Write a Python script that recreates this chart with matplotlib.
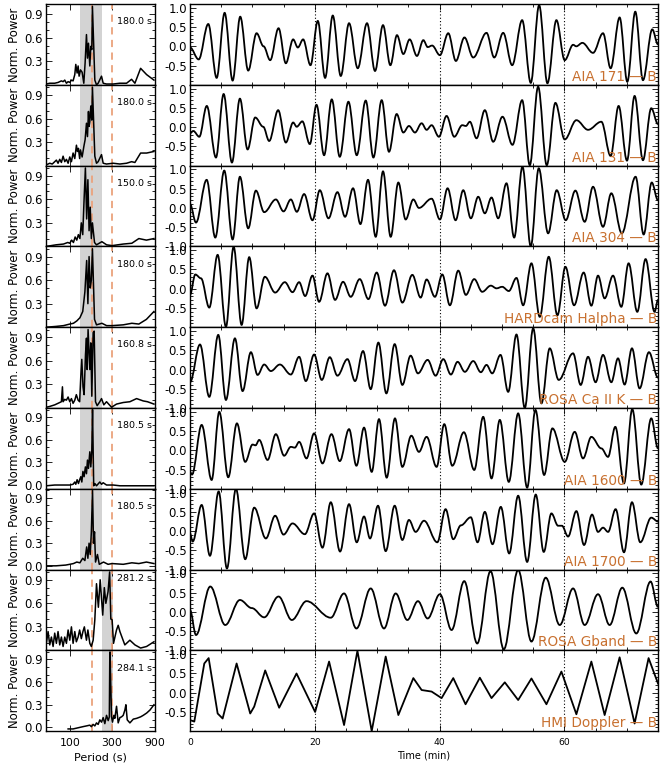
import numpy as np
import matplotlib.pyplot as plt
from matplotlib.path import Path
from matplotlib.patches import PathPatch
from matplotlib.ticker import MultipleLocator, NullLocator

plt.rcParams['font.family'] = 'DejaVu Sans'
plt.rcParams['axes.unicode_minus'] = False

# ---- labels ----
names = ['AIA 171 \u2014 B', 'AIA 131 \u2014 B', 'AIA 304 \u2014 B', 'HARDcam Halpha \u2014 B',
         'ROSA Ca II K \u2014 B', 'AIA 1600 \u2014 B', 'AIA 1700 \u2014 B', 'ROSA Gband \u2014 B',
         'HMI Doppler \u2014 B']
peak_text = ['180.0 s', '180.0 s', '150.0 s', '180.0 s', '160.8 s', '180.5 s', '180.5 s', '281.2 s', '284.1 s']
band_lo = [129, 129, 129, 129, 129, 129, 129, 228, 228]
band_hi = [228, 228, 228, 228, 228, 228, 228, 303, 303]

# ---- power spectra (period [s], normalised power) ----
per_171 = [54.5, 59.5, 67.7, 73.8, 80.5, 84.1, 87.8, 91.7, 95.8, 100, 104.4, 109, 113.9, 116.9, 121, 124.2,
           127.4, 132, 137.8, 143.9, 148.9, 154.2, 158.3, 162.4, 168.2, 172.6, 177.1, 180, 191.5, 200,
           208.8, 227.8, 237.8, 259.4, 308.3, 366.7, 436.1, 496.6, 541.6, 627.7, 733.5, 887]
pow_171 = [0.01, 0.02, 0.02, 0.03, 0.05, 0.04, 0.06, 0.02, 0.04, 0.03, 0.06, 0.05, 0.13, 0.26, 0.15, 0.24,
           0.11, 0.19, 0.16, 0.02, 0.28, 0.64, 0.34, 0.53, 0.24, 0.49, 0.45, 1.0, 0.06, 0.0,
           0.02, 0.11, 0.02, 0.01, 0.01, 0.02, 0.02, 0.07, 0.02, 0.21, 0.13, 0.06]

per_131 = [54.5, 59.5, 63.5, 70.7, 73.8, 77.1, 80.5, 84.1, 87.8, 91.7, 95.8, 100, 104.4, 109, 113.9, 118.9,
           122, 125.3, 129.2, 132, 137.8, 143.9, 148.9, 154.2, 158.3, 162.4, 165, 168.2, 172.6, 177.1,
           180, 191.5, 200, 208.8, 227.8, 237.8, 259.4, 308.3, 366.7, 436.1, 496.6, 541.6, 627.7, 733.5, 887]
pow_131 = [0.01, 0.03, 0.02, 0.07, 0.03, 0.08, 0.04, 0.12, 0.05, 0.08, 0.03, 0.11, 0.05, 0.16, 0.09, 0.26,
           0.18, 0.22, 0.09, 0.20, 0.11, 0.24, 0.33, 0.54, 0.37, 0.69, 0.50, 0.56, 0.76, 0.58,
           1.0, 0.12, 0.03, 0.05, 0.14, 0.03, 0.02, 0.03, 0.02, 0.03, 0.05, 0.04, 0.16, 0.16, 0.18]

per_304 = [54.5, 70, 85, 95, 100, 105, 110, 115, 120, 125, 130, 135, 140, 145, 150, 155, 160, 165, 170,
           175, 180, 190, 200, 230, 260, 300, 400, 500, 600, 730, 887]
pow_304 = [0.0, 0.02, 0.03, 0.05, 0.04, 0.08, 0.05, 0.12, 0.08, 0.15, 0.10, 0.30, 0.15, 0.60, 1.0, 0.35,
           0.85, 0.20, 0.50, 0.10, 0.30, 0.05, 0.02, 0.06, 0.02, 0.01, 0.03, 0.04, 0.10, 0.08, 0.10]

per_ha = [54.5, 70, 85, 100, 110, 120, 130, 140, 148, 155, 160, 165, 170, 175, 180, 190, 200, 230, 260,
          300, 400, 500, 600, 730, 887]
pow_ha = [0.0, 0.01, 0.02, 0.04, 0.05, 0.08, 0.12, 0.20, 0.45, 0.85, 0.30, 0.90, 0.50, 0.60, 1.0, 0.10,
          0.03, 0.05, 0.02, 0.02, 0.03, 0.05, 0.04, 0.10, 0.20]

per_cak = [54.5, 59.5, 67.7, 80.5, 82.7, 84.1, 87.8, 91.7, 95.8, 100, 104.4, 109, 113.9, 118.6, 124.2,
           129.2, 133.1, 136.6, 141, 145.1, 150.3, 154.2, 157, 160.8, 168.2, 172.6, 177.1, 183.4, 188.2,
           194.9, 203.5, 218.1, 227.8, 241.9, 259.4, 295.3, 336.3, 399.9, 475.5, 565.5, 672, 750, 887]
pow_cak = [0.01, 0.02, 0.04, 0.08, 0.27, 0.08, 0.11, 0.10, 0.14, 0.08, 0.12, 0.06, 0.10, 0.17, 0.10,
           0.08, 0.40, 0.62, 0.27, 0.17, 0.68, 0.89, 0.49, 1.0, 0.49, 0.83, 0.15, 0.96, 0.98,
           0.08, 0.03, 0.08, 0.12, 0.04, 0.08, 0.01, 0.05, 0.07, 0.08, 0.12, 0.09, 0.08, 0.05]

per_1600 = [54.5, 67.7, 80.5, 91.7, 100, 109, 113.9, 116.9, 121, 125.3, 129.2, 133.2, 136.7, 140.7, 145,
            150, 154.2, 158.3, 162.4, 168.2, 172.6, 177.1, 180.5, 186, 191.5, 200, 218.1, 227.8, 237.8,
            259.4, 308.3, 366.7, 496.6, 733.5, 887]
pow_1600 = [-0.01, 0.0, 0.0, 0.0, 0.0, 0.01, 0.04, 0.01, 0.07, 0.02, 0.07, 0.11, 0.04, 0.18, 0.11,
            0.24, 0.15, 0.33, 0.22, 0.44, 0.24, 0.46, 1.0, -0.01, 0.02, -0.01, 0.04, 0.01, 0.03,
            0.0, 0.0, -0.01, -0.01, -0.01, -0.01]

per_1700 = [54.5, 70, 90, 100, 110, 120, 130, 140, 148, 155, 160, 165, 170, 175, 180.5, 185, 190, 195,
            205, 215, 240, 270, 300, 400, 500, 600, 730, 887]
pow_1700 = [0.0, 0.0, 0.01, 0.02, 0.03, 0.05, 0.04, 0.10, 0.07, 0.25, 0.10, 0.30, 0.15, 0.45, 1.0, 0.30,
            0.45, 0.05, 0.15, 0.02, 0.05, 0.02, 0.03, 0.02, 0.04, 0.03, 0.05, 0.03]

per_gb = [54.5, 57, 59.5, 62.1, 64.9, 67.7, 70.7, 73.8, 77.1, 80.5, 84.1, 87.8, 91.7, 95.8, 100, 104.4,
          109, 113.9, 118.6, 124.2, 129.2, 135, 140.7, 146, 154.2, 160, 168.2, 175, 183.4, 191.5,
          200, 210, 220, 235, 245, 255, 270, 281.2, 290, 300, 311, 336, 351, 367, 417, 475, 542, 628,
          733, 887]
pow_gb = [0.09, 0.24, 0.07, 0.17, 0.05, 0.22, 0.09, 0.24, 0.07, 0.17, 0.05, 0.17, 0.09, 0.26, 0.13, 0.30,
          0.09, 0.24, 0.11, 0.17, 0.26, 0.15, 0.24, 0.30, 0.13, 0.26, 0.09, 0.05, 0.13, 0.39,
          0.85, 0.55, 0.90, 0.45, 0.80, 0.60, 0.75, 1.0, 0.40, 0.39, 0.09, 0.26, 0.32, 0.24, 0.07,
          0.13, 0.07, 0.03, 0.05, 0.11]

per_hmi = [95.8, 109, 129.2, 140.7, 154.2, 168.2, 175, 183.4, 191.5, 200, 208.8, 218.1, 227.8, 237.8,
           248.3, 259.4, 270.9, 279, 282.5, 284.1, 295.3, 303, 313.6, 321.6, 336.3, 351, 366.7, 383,
           399.9, 417.6, 428.7, 443.9, 475.5, 519.4, 565.5, 627.7, 672, 733.5, 800, 887]
pow_hmi = [-0.02, -0.02, 0.0, 0.01, 0.02, 0.03, 0.01, 0.04, 0.02, 0.06, 0.04, 0.10, 0.07, 0.13,
           0.05, 0.16, 0.09, 0.14, 0.98, 1.0, 0.14, 0.07, 0.16, 0.12, 0.28, 0.06, 0.13, 0.14,
           0.16, 0.23, 0.30, 0.10, 0.06, 0.11, 0.12, 0.14, 0.16, 0.19, 0.23, 0.30]

# ---- filtered light curves: turning points (time [min], amplitude) ----
t_171 = [0, 1.39, 2.93, 4.27, 5.55, 6.83, 8.05, 9.33, 10.67, 11.79,
         12.85, 14.19, 15.36, 16.53, 17.28, 18.13, 19.31, 20.48, 21.65, 22.88,
         24.16, 25.49, 26.88, 28.37, 29.65, 30.93, 32.11, 33.17, 34.19, 35.2,
         36.37, 37.39, 38.1, 38.8, 40.05, 41.39, 42.61, 43.98, 45.39, 47.52,
         48.75, 50.19, 51.63, 53.23, 54.61, 55.95, 57.28, 58.72, 60.05, 61.4,
         61.9, 62.88, 64.59, 66.19, 67.41, 68.85, 70.08, 71.36, 72.59, 74.08,
         75.0]
v_171 = [-0.03, -0.34, 0.58, -0.82, 0.87, -0.89, 0.77, -0.63, 0.34, 0.0,
         -0.36, 0.47, -0.44, 0.18, -0.03, 0.18, -0.49, 0.66, -0.82, 0.80,
         -0.77, 0.60, -0.57, 0.60, -0.64, 0.55, -0.49, 0.29, -0.20, 0.18,
         -0.25, 0.16, -0.02, 0.02, -0.23, 0.34, -0.38, 0.23, -0.29, 0.35,
         -0.29, 0.35, -0.49, 0.68, -0.95, 1.07, -0.96, 0.68, -0.36, 0.04,
         0.0, 0.09, -0.17, 0.34, -0.57, 0.75, -0.92, 0.90, -0.88, 0.44,
         0.05]

t_131 = [0, 0.53, 1.49, 2.69, 4.16, 5.39, 6.72, 8.0, 9.23, 10.45,
         11.73, 12.69, 14.13, 15.36, 16.53, 17.1, 18.0, 19.2, 20.27, 21.49,
         22.72, 24.0, 25.39, 26.72, 28.16, 29.39, 30.72, 31.89, 33.12, 34.19,
         35.09, 36.05, 37.12, 37.92, 38.72, 39.89, 41.12, 42.35, 43.63, 44.21,
         44.85, 45.92, 47.25, 48.59, 50.08, 51.68, 53.23, 54.45, 55.79, 57.17,
         58.56, 60.05, 61.92, 63.79, 65.92, 67.41, 68.69, 70.03, 71.25, 72.59,
         73.92, 75.0]
v_131 = [-0.16, -0.10, -0.25, 0.55, -0.79, 0.86, -0.92, 0.74, -0.58, 0.25,
         0.01, -0.36, 0.44, -0.40, 0.12, 0.01, 0.15, -0.44, 0.58, -0.73,
         0.72, -0.77, 0.66, -0.73, 0.69, -0.79, 0.70, -0.64, 0.34, -0.14,
         0.03, -0.14, 0.10, -0.07, 0.05, -0.25, 0.29, -0.25, 0.05, 0.03,
         0.14, -0.29, 0.44, -0.38, 0.27, -0.46, 0.70, -0.99, 1.05, -0.99,
         0.63, -0.32, 0.18, -0.07, 0.14, -0.75, 0.55, -0.87, 0.81, -0.86,
         0.49, 0.08]

t_304 = [0, 0.96, 2.67, 4.05, 5.49, 6.83, 8.0, 9.33, 10.56, 11.89,
         13.76, 14.99, 16.16, 17.12, 18.29, 19.63, 20.8, 22.19, 23.63, 24.85,
         26.13, 27.31, 28.53, 29.76, 30.93, 32.16, 33.39, 34.56, 35.79, 36.69,
         38.72, 40.05, 41.28, 42.56, 43.79, 45.01, 46.19, 47.25, 48.32, 49.39,
         50.72, 51.95, 53.28, 54.61, 55.89, 57.39, 58.77, 60.21, 61.76, 63.25,
         64.59, 66.19, 67.52, 69.2, 71.41, 72.7, 74.0, 75.0]
v_304 = [0.10, -0.38, 0.73, -0.77, 0.97, -0.82, 0.81, -0.53, 0.45, -0.11,
         0.22, -0.09, 0.22, -0.10, 0.36, -0.32, 0.46, -0.27, 0.41, -0.23,
         0.51, -0.42, 0.73, -0.75, 0.95, -0.75, 0.66, -0.30, 0.22, 0.0,
         0.24, -0.30, 0.51, -0.32, 0.46, -0.27, 0.29, -0.14, 0.27, -0.27,
         0.64, -0.77, 1.07, -1.0, 1.03, -0.66, 0.46, -0.32, 0.45, -0.36,
         0.55, -0.49, 0.38, -0.66, 0.81, -0.69, 0.66, 0.20]

t_ha = [0, 0.85, 1.76, 3.09, 4.43, 5.76, 6.99, 8.27, 9.49, 10.67,
        12.0, 13.65, 15.2, 16.43, 17.49, 18.45, 19.63, 20.69, 22.03, 23.25,
        24.53, 25.76, 27.2, 28.59, 29.92, 31.25, 32.69, 34.03, 35.63, 36.96,
        37.92, 39.25, 40.43, 41.65, 42.99, 44.21, 45.55, 46.83, 48.21, 49.12,
        50.03, 51.09, 52.32, 53.39, 54.72, 56.05, 57.49, 58.88, 60.16, 61.55,
        63.09, 64.32, 65.39, 66.45, 67.79, 69.12, 70.29, 71.68, 73.01, 74.45,
        75.0]
v_ha = [-0.16, 0.37, 0.27, -0.49, 0.88, -0.99, 1.09, -0.94, 0.82, -0.51,
        0.31, -0.10, 0.17, -0.09, 0.17, -0.19, 0.34, -0.34, 0.40, -0.29,
        0.18, -0.21, 0.25, -0.27, 0.42, -0.44, 0.48, -0.36, 0.36, -0.23,
        0.24, -0.21, 0.37, -0.43, 0.47, -0.16, 0.25, -0.08, 0.08, 0.01,
        0.05, -0.06, 0.28, -0.43, 0.66, -0.73, 0.83, -0.69, 0.57, -0.43,
        0.42, -0.44, 0.34, -0.25, 0.34, -0.47, 0.66, -0.60, 0.77, -0.60,
        -0.29]

t_cak = [0, 1.6, 3.09, 4.53, 5.76, 7.2, 8.43, 9.76, 10.83, 11.89,
         12.96, 14.4, 16.16, 17.49, 18.56, 19.89, 21.12, 22.4, 23.63, 25.23,
         26.45, 27.73, 28.96, 30.19, 31.47, 32.8, 34.03, 35.36, 36.53, 38.08,
         39.36, 40.59, 41.81, 42.88, 44.05, 45.39, 46.61, 47.52, 48.43, 49.76,
         50.99, 52.32, 53.65, 55.0, 56.32, 57.65, 59.09, 61.39, 62.61, 63.79,
         65.0, 66.19, 67.52, 68.59, 69.65, 70.83, 72.05, 73.55, 75.0]
v_cak = [-0.33, 0.65, -0.71, 0.90, -0.79, 0.81, -0.56, 0.45, -0.14, 0.13,
         -0.04, 0.13, -0.13, 0.33, -0.30, 0.39, -0.27, 0.32, -0.16, 0.27,
         -0.30, 0.48, -0.51, 0.70, -0.62, 0.66, -0.40, 0.36, -0.10, 0.25,
         -0.16, 0.27, -0.13, 0.20, -0.06, 0.22, -0.07, 0.12, -0.10, 0.38,
         -0.58, 0.91, -1.0, 1.07, -0.88, 0.55, -0.27, 0.42, -0.40, 0.33,
         -0.33, 0.38, -0.33, 0.29, -0.39, 0.55, -0.49, 0.45, -0.21]

t_1600 = [0, 0.32, 1.87, 3.47, 4.69, 6.13, 7.52, 8.85, 10.03, 10.5,
          11.09, 12.43, 13.76, 15.09, 16.16, 16.8, 17.49, 18.67, 19.89, 21.23,
          22.67, 24.0, 25.49, 26.67, 27.89, 29.12, 30.29, 31.52, 32.85, 34.03,
          35.47, 36.69, 37.92, 39.52, 40.75, 42.03, 43.89, 45.55, 46.99, 48.32,
          49.65, 51.09, 52.59, 54.03, 55.36, 56.75, 58.08, 60.05, 61.65, 62.99,
          64.32, 65.92, 66.99, 68.16, 69.55, 70.88, 72.32, 73.92, 75.0]
v_1600 = [-0.56, -0.63, 0.66, -0.77, 1.0, -0.70, 0.70, -0.30, 0.15, 0.13,
          0.27, -0.25, 0.42, -0.14, 0.09, 0.07, 0.22, -0.21, 0.44, -0.34,
          0.42, -0.28, 0.55, -0.40, 0.59, -0.56, 0.81, -0.71, 0.83, -0.43,
          0.38, -0.04, 0.35, -0.43, 0.68, -0.40, 0.47, -0.51, 0.87, -0.73,
          0.79, -0.82, 0.96, -0.97, 1.05, -0.64, 0.57, -0.30, 0.48, -0.21,
          0.35, 0.05, -0.17, 0.61, -0.86, 1.07, -0.89, 0.83, 0.05]

t_1700 = [0, 0.43, 1.87, 3.2, 4.59, 5.92, 7.36, 8.85, 10.29, 12.16,
          13.65, 14.99, 16.43, 18.4, 19.89, 21.23, 22.56, 24.05, 25.49, 26.72,
          27.89, 28.85, 30.13, 31.36, 32.8, 34.03, 35.09, 36.16, 37.5, 39.63,
          40.96, 42.19, 43.41, 45.0, 46.08, 47.25, 48.48, 49.81, 51.15, 52.59,
          54.03, 55.41, 56.69, 57.92, 58.99, 59.6, 60.59, 61.92, 63.15, 64.43,
          65.39, 66.19, 67.0, 68.21, 69.55, 70.83, 72.16, 73.92, 75.0]
v_1700 = [-0.06, -0.27, 0.68, -0.64, 1.03, -0.97, 1.10, -0.73, 0.61, -0.19,
          0.40, -0.09, 0.20, -0.08, 0.46, -0.43, 0.75, -0.53, 0.70, -0.29,
          0.38, -0.19, 0.66, -0.52, 0.66, -0.23, 0.29, -0.02, 0.27, -0.29,
          0.57, -0.21, 0.15, 0.36, -0.29, 0.50, -0.34, 0.63, -0.58, 0.92,
          -0.80, 0.95, -0.54, 0.46, 0.14, 0.14, -0.14, 0.52, -0.36, 0.43,
          -0.02, 0.09, -0.02, 0.57, -0.55, 0.75, -0.29, 0.35, 0.25]

t_gb = [0, 0.96, 3.25, 5.65, 8.0, 9.9, 11.89, 14.19, 16.32, 18.67,
        22.56, 24.69, 26.67, 28.96, 31.09, 32.96, 34.83, 36.53, 38.08, 40.05,
        41.92, 43.95, 46.03, 48.16, 50.29, 52.59, 54.72, 57.01, 59.25, 61.39,
        63.25, 65.39, 67.25, 69.28, 71.52, 73.81, 75.0]
v_gb = [0.05, -0.60, 0.66, -0.34, 0.31, 0.10, -0.14, 0.40, -0.21, 0.28,
        -0.15, 0.48, -0.43, 0.61, -0.43, 0.48, -0.21, 0.28, -0.17, 0.46,
        -0.47, 0.80, -0.82, 1.06, -0.97, 1.09, -0.77, 0.89, -0.34, 0.61,
        -0.34, 0.46, -0.34, 0.63, -0.56, 0.79, 0.13]

t_hmi = [0, 0.69, 2.29, 2.99, 4.43, 5.23, 7.47, 9.65, 10.29, 12.05,
         14.29, 17.07, 20.05, 22.29, 24.69, 26.83, 29.12, 31.36, 33.39, 35.79,
         37.12, 38.72, 40.32, 42.19, 44.16, 46.45, 48.32, 50.45, 52.59, 54.72,
         57.12, 59.52, 61.92, 64.32, 66.45, 68.85, 71.25, 73.49, 75.0]
v_hmi = [-0.71, -0.75, 0.76, 0.90, -0.54, -0.67, 0.76, -0.54, -0.36, 0.58,
         -0.39, 0.50, -0.50, 0.81, -0.84, 1.09, -1.0, 0.94, -0.58, 0.38,
         0.07, 0.03, -0.14, 0.38, -0.30, 0.39, -0.14, 0.27, -0.19, 0.37,
         -0.30, 0.55, -0.56, 0.81, -0.58, 0.92, -0.80, 0.90, 0.24]

periods = [per_171, per_131, per_304, per_ha, per_cak, per_1600, per_1700, per_gb, per_hmi]
powers = [pow_171, pow_131, pow_304, pow_ha, pow_cak, pow_1600, pow_1700, pow_gb, pow_hmi]
times = [t_171, t_131, t_304, t_ha, t_cak, t_1600, t_1700, t_gb, t_hmi]
waves = [v_171, v_131, v_304, v_ha, v_cak, v_1600, v_1700, v_gb, v_hmi]
show_m1 = [False, False, True, False, True, True, True, True, False]
show_zero = [False, False, False, False, False, True, True, False, True]


def wave_path(t, v):
    # smooth curve through turning points (flat tangent at each point)
    verts = [(t[0], v[0])]
    codes = [Path.MOVETO]
    for t0, v0, t1, v1 in zip(t[:-1], v[:-1], t[1:], v[1:]):
        d = 0.36 * (t1 - t0)
        verts += [(t0 + d, v0), (t1 - d, v1), (t1, v1)]
        codes += [Path.CURVE4] * 3
    return Path(verts, codes)


W, H = 664, 766
fig = plt.figure(figsize=(W / 100, H / 100), dpi=100)
row_h = 80.8
orange = '#c8702f'
dash_col = '#eba27c'

for k in range(9):
    top = 4 + row_h * k
    yb = 1 - (top + row_h) / H
    last = k == 8

    # left: power spectrum
    axl = fig.add_axes([46 / W, yb, 108.5 / W, row_h / H])
    axl.axvspan(band_lo[k], band_hi[k], color='#d3d3d3', lw=0)
    for p in (180, 300):
        axl.axvline(p, color=dash_col, ls=(0, (4, 3)), lw=1.3)
    axl.plot(periods[k], powers[k], color='k', lw=1.1)
    axl.set_xscale('log')
    axl.set_xlim(54, 900)
    if show_zero[k]:
        axl.set_ylim(-0.05, 1.02)
        axl.set_yticks([0.0, 0.3, 0.6, 0.9], labels=['0.0', '0.3', '0.6', '0.9'])
    else:
        axl.set_ylim(0, 1.03)
        axl.set_yticks([0.3, 0.6, 0.9], labels=['0.3', '0.6', '0.9'])
    axl.yaxis.set_minor_locator(MultipleLocator(0.1))
    axl.set_xticks([100, 300, 900])
    axl.xaxis.set_minor_locator(NullLocator())
    axl.tick_params(which='both', direction='in', top=True, right=True, width=0.6)
    axl.tick_params(which='major', length=4, labelsize=8.4, pad=2)
    axl.tick_params(which='minor', length=2)
    if last:
        axl.set_xticklabels(['100', '300', '900'], fontsize=7.8)
        axl.tick_params(axis='x', pad=5)
    else:
        axl.set_xticklabels([])
    axl.text(0.975, 0.89 if k == 7 else 0.78, peak_text[k], transform=axl.transAxes,
             ha='right', va='center', fontsize=6.8)
    fig.text(15 / W, 1 - (top + row_h / 2) / H, 'Norm. Power', rotation=90,
             ha='center', va='center', fontsize=8.4)

    # right: filtered light curve
    axr = fig.add_axes([190 / W, yb, 468 / W, row_h / H])
    for m in (20, 40, 60):
        axr.axvline(m, color='k', ls=(0, (1, 2)), lw=0.8)
    if k == 8:
        axr.plot(times[k], waves[k], color='k', lw=1.3)
    else:
        axr.add_patch(PathPatch(wave_path(times[k], waves[k]), fill=False, ec='k', lw=1.3))
    axr.set_xlim(0, 75)
    axr.set_ylim(-1.0, 1.1)
    ylabs = ['-1.0' if show_m1[k] else '', '-0.5', '0.0', '0.5', '1.0']
    axr.set_yticks([-1.0, -0.5, 0.0, 0.5, 1.0], labels=ylabs)
    axr.yaxis.set_minor_locator(MultipleLocator(0.1))
    axr.set_xticks([0, 20, 40, 60])
    axr.xaxis.set_minor_locator(MultipleLocator(5))
    axr.tick_params(which='both', direction='in', top=True, right=True, width=0.6)
    axr.tick_params(which='major', length=4, labelsize=8.4, pad=2)
    axr.tick_params(which='minor', length=2)
    if last:
        axr.set_xticklabels(['0', '20', '40', '60'], fontsize=6.6)
        axr.tick_params(axis='x', pad=5)
    else:
        axr.set_xticklabels([])
    axr.text(0.998, 0.05, names[k], transform=axr.transAxes, ha='right', va='baseline',
             fontsize=9.8, color=orange)

    for ax in (axl, axr):
        for s in ax.spines.values():
            s.set_linewidth(1.0)

fig.text(100 / W, 1 - 757 / H, 'Period (s)', ha='center', va='center', fontsize=8)
fig.text(424 / W, 1 - 755 / H, 'Time (min)', ha='center', va='center', fontsize=7)

fig.savefig('out.png', dpi=100)
